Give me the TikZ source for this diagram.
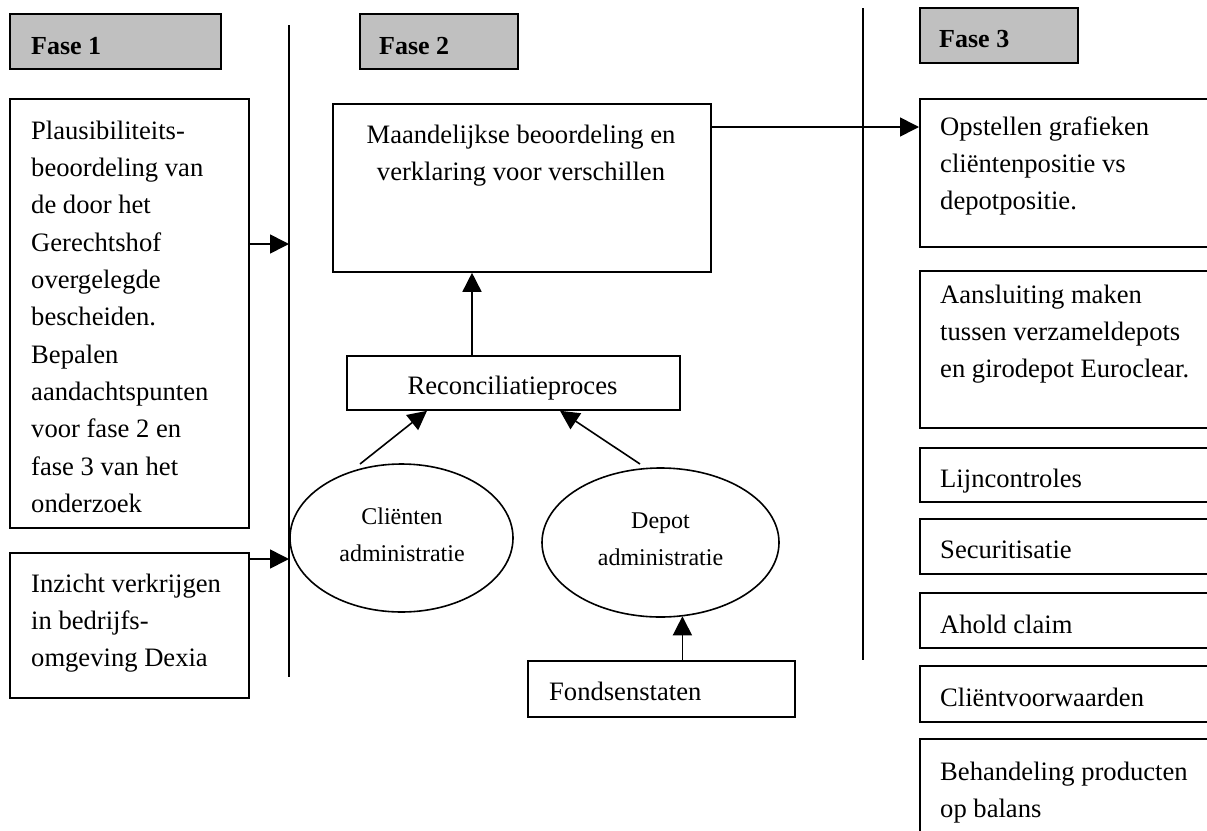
\documentclass[tikz,border=0pt]{standalone}
\usepackage{fontspec}
\setmainfont{Liberation Serif}
\usetikzlibrary{arrows.meta,shapes.geometric,calc}
\definecolor{hdrgray}{HTML}{C0C0C0}
\newcommand{\mytl}[1]{\parbox[t]{300pt}{\raggedright #1}}
\newcommand{\mytc}[2]{\parbox[t]{#1}{\centering #2}}
\tikzset{
  boxst/.style={draw, line width=1.8pt, inner sep=0pt, anchor=north west},
  hdr/.style={boxst, fill=hdrgray},
  txt/.style={anchor=base west, inner sep=0pt, font=\fontsize{26.6}{37.35}\selectfont},
  ctxt/.style={anchor=base, inner sep=0pt, font=\fontsize{26.6}{37.35}\selectfont},
  htxt/.style={anchor=base west, inner sep=0pt, font=\fontsize{26}{30}\selectfont\bfseries},
  ell/.style={draw, ellipse, line width=1.6pt, inner sep=0pt},
  etxt/.style={anchor=base, inner sep=0pt, font=\fontsize{24}{37}\selectfont},
  sepline/.style={line width=1.3pt},
  arr/.style={line width=1.6pt, -{Triangle[length=19pt,width=19pt]}},
}
\begin{document}
\begin{tikzpicture}[x=1pt,y=-1pt]
\useasboundingbox (0,0) rectangle (1207,830);
\clip (0,0) rectangle (1207,830);

% headers
\node[hdr, minimum width=211pt, minimum height=55pt] (f1) at (9,13) {};
\node[htxt] (f1t) at (31,54) {Fase 1};
\node[hdr, minimum width=158pt, minimum height=55pt] (f2) at (359,13) {};
\node[htxt] (f2t) at (379,54) {Fase 2};
\node[hdr, minimum width=158pt, minimum height=55pt] (f3) at (919,7) {};
\node[htxt] (f3t) at (939,47) {Fase 3};

% separators
\coordinate (s1t) at (289,25);
\coordinate (s1b) at (289,677);
\coordinate (s2t) at (863,8);
\coordinate (s2b) at (863,660);
\draw[sepline] (s1t) -- (s1b);
\draw[sepline] (s2t) -- (s2b);

% phase 1
\node[boxst, minimum width=239pt, minimum height=429pt] (plaus) at (9,98) {};
\node[txt] (plaust) at (31,139) {\mytl{Plausibiliteits-\\beoordeling van\\de door het\\Gerechtshof\\overgelegde\\bescheiden.\\Bepalen\\aandachtspunten\\voor fase 2 en\\fase 3 van het\\onderzoek}};
\node[boxst, minimum width=239pt, minimum height=145pt] (inz) at (9,552) {};
\node[txt] (inzt) at (31,592) {\mytl{Inzicht verkrijgen\\in bedrijfs-\\omgeving Dexia}};
\coordinate (a1) at (289,244);
\coordinate (a2) at (289,559);
\draw[arr] (plaus.east |- a1) -- (a1);
\draw[arr] (inz.east |- a2) -- (a2);

% phase 2
\node[boxst, minimum width=378pt, minimum height=168pt] (maand) at (332,103) {};
\node[ctxt] (maandt) at (521,143) {\mytc{370pt}{Maandelijkse beoordeling en\\verklaring voor verschillen}};
\node[boxst, minimum width=333pt, minimum height=54pt] (rec) at (346,355) {};
\node[ctxt] (rect) at (512.5,394) {Reconciliatieproces};
\node[ell, minimum width=223pt, minimum height=148pt] (cl) at (401.5,538) {};
\node[etxt] (clt) at (402,524) {\mytc{200pt}{Cliënten\\administratie}};
\node[ell, minimum width=237pt, minimum height=149pt] (dep) at (660.5,542.5) {};
\node[etxt] (dept) at (660.5,528) {\mytc{200pt}{Depot\\administratie}};
\node[boxst, minimum width=267pt, minimum height=56pt] (fonds) at (527,660) {};
\node[txt] (fondst) at (549,700) {Fondsenstaten};

\coordinate (r1) at ([xshift=126pt]rec.north west);
\draw[arr] (r1) -- (r1 |- maand.south);
\coordinate (cs) at (360,464);
\coordinate (ce) at ([xshift=81pt]rec.south west);
\draw[arr] (cs) -- (ce);
\coordinate (ds) at (640,464);
\coordinate (de) at ([xshift=214pt]rec.south west);
\draw[arr] (ds) -- (de);
\coordinate (fs) at ([xshift=21pt]fonds.north);
\draw[arr] (fs) -- ([yshift=1.5pt]fs |- dep.south);

% phase 3
\node[boxst, minimum width=300pt, minimum height=148pt] (ops) at (919,98) {};
\node[txt] (opst) at (940,135) {\mytl{Opstellen grafieken\\cliëntenpositie vs\\depotpositie.}};
\node[boxst, minimum width=300pt, minimum height=157pt] (aan) at (919,270) {};
\node[txt] (aant) at (940,303) {\mytl{Aansluiting maken\\tussen verzameldepots\\en girodepot Euroclear.}};
\node[boxst, minimum width=300pt, minimum height=54pt] (lijn) at (919,447) {};
\node[txt] (lijnt) at (940,487) {Lijncontroles};
\node[boxst, minimum width=300pt, minimum height=55pt] (sec) at (919,518) {};
\node[txt] (sect) at (940,558) {Securitisatie};
\node[boxst, minimum width=300pt, minimum height=55pt] (aho) at (919,592) {};
\node[txt] (ahot) at (940,633) {Ahold claim};
\node[boxst, minimum width=300pt, minimum height=56pt] (cli) at (919,665) {};
\node[txt] (clit) at (940,706) {Cliëntvoorwaarden};
\node[boxst, minimum width=300pt, minimum height=120pt] (beh) at (919,738) {};
\node[txt] (beht) at (940,780) {\mytl{Behandeling producten\\op balans}};

\coordinate (m1) at ([yshift=-24pt]maand.north east);
\draw[arr] (m1) -- (m1 -| ops.west);
\end{tikzpicture}
\end{document}
